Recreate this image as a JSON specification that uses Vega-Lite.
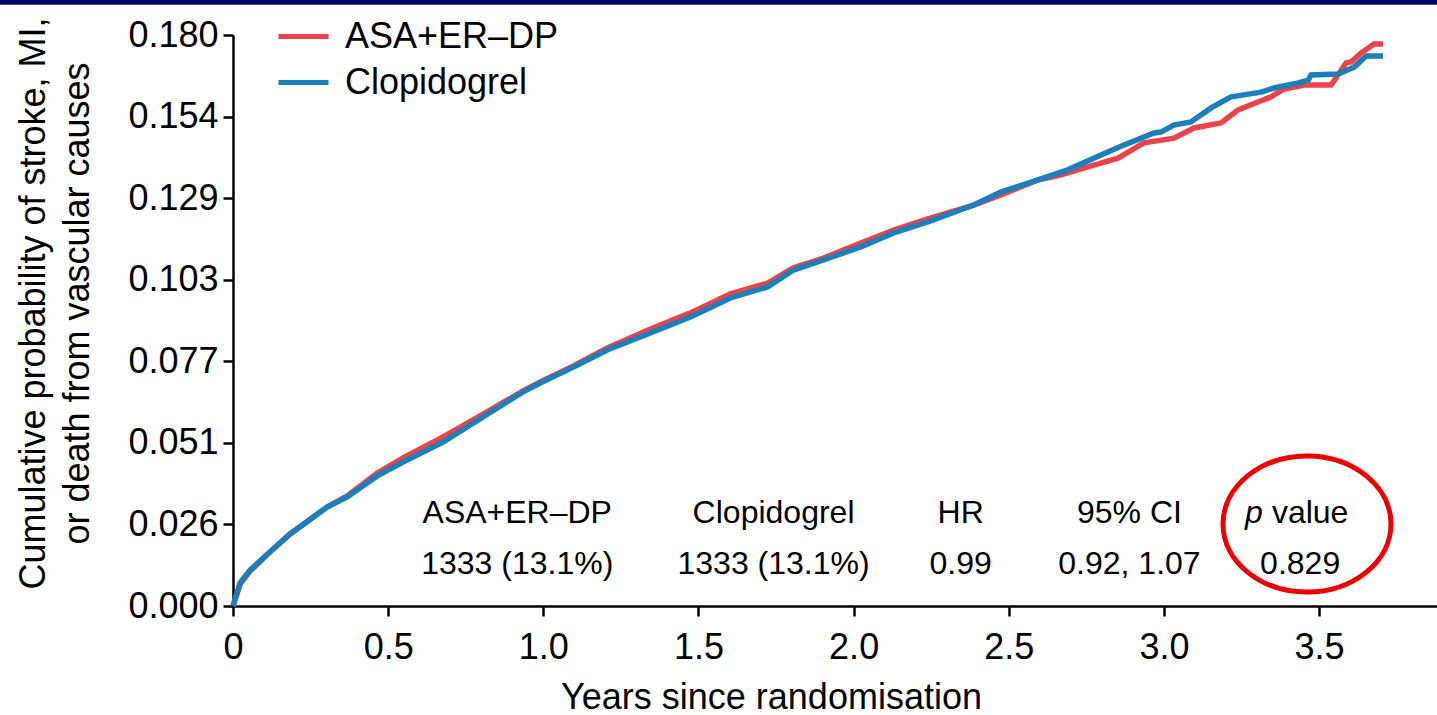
{
  "$schema": "https://vega.github.io/schema/vega-lite/v6.json",
  "width": 1204,
  "height": 571,
  "autosize": {"type": "none"},
  "padding": {"left": 233, "top": 35, "right": 0, "bottom": 109},
  "background": "white",
  "config": {
    "font": "Liberation Sans",
    "view": {"stroke": null},
    "axis": {
      "grid": false,
      "domainColor": "black",
      "domainWidth": 2.5,
      "tickColor": "black",
      "tickWidth": 2.5,
      "tickSize": 10,
      "labelColor": "black",
      "labelFontSize": 36,
      "labelFont": "Liberation Sans",
      "titleColor": "black",
      "titleFontSize": 36,
      "titleFont": "Liberation Sans",
      "titleFontWeight": "normal",
      "labelOverlap": false
    },
    "legend": {
      "labelFont": "Liberation Sans",
      "labelFontSize": 36,
      "labelColor": "black",
      "labelLimit": 0
    }
  },
  "datasets": {
    "curves": [
      {"s": "ASA+ER–DP", "t": 0, "p": 0},
      {"s": "ASA+ER–DP", "t": 0.006, "p": 0.0019},
      {"s": "ASA+ER–DP", "t": 0.023, "p": 0.0069},
      {"s": "ASA+ER–DP", "t": 0.055, "p": 0.011},
      {"s": "ASA+ER–DP", "t": 0.119, "p": 0.017},
      {"s": "ASA+ER–DP", "t": 0.184, "p": 0.0227},
      {"s": "ASA+ER–DP", "t": 0.303, "p": 0.0312},
      {"s": "ASA+ER–DP", "t": 0.368, "p": 0.0347},
      {"s": "ASA+ER–DP", "t": 0.465, "p": 0.0419},
      {"s": "ASA+ER–DP", "t": 0.548, "p": 0.0467},
      {"s": "ASA+ER–DP", "t": 0.677, "p": 0.0533},
      {"s": "ASA+ER–DP", "t": 0.806, "p": 0.0605},
      {"s": "ASA+ER–DP", "t": 0.935, "p": 0.0678},
      {"s": "ASA+ER–DP", "t": 0.99, "p": 0.0706},
      {"s": "ASA+ER–DP", "t": 1.097, "p": 0.0757},
      {"s": "ASA+ER–DP", "t": 1.206, "p": 0.0813},
      {"s": "ASA+ER–DP", "t": 1.345, "p": 0.0873},
      {"s": "ASA+ER–DP", "t": 1.474, "p": 0.0924},
      {"s": "ASA+ER–DP", "t": 1.603, "p": 0.0984},
      {"s": "ASA+ER–DP", "t": 1.723, "p": 0.1018},
      {"s": "ASA+ER–DP", "t": 1.806, "p": 0.1066},
      {"s": "ASA+ER–DP", "t": 1.903, "p": 0.1097},
      {"s": "ASA+ER–DP", "t": 2.023, "p": 0.1144},
      {"s": "ASA+ER–DP", "t": 2.129, "p": 0.1185},
      {"s": "ASA+ER–DP", "t": 2.239, "p": 0.122},
      {"s": "ASA+ER–DP", "t": 2.387, "p": 0.1264},
      {"s": "ASA+ER–DP", "t": 2.474, "p": 0.1296},
      {"s": "ASA+ER–DP", "t": 2.594, "p": 0.1343},
      {"s": "ASA+ER–DP", "t": 2.668, "p": 0.1359},
      {"s": "ASA+ER–DP", "t": 2.774, "p": 0.139},
      {"s": "ASA+ER–DP", "t": 2.852, "p": 0.1412},
      {"s": "ASA+ER–DP", "t": 2.935, "p": 0.146},
      {"s": "ASA+ER–DP", "t": 3.032, "p": 0.1475},
      {"s": "ASA+ER–DP", "t": 3.097, "p": 0.1507},
      {"s": "ASA+ER–DP", "t": 3.184, "p": 0.1523},
      {"s": "ASA+ER–DP", "t": 3.239, "p": 0.1564},
      {"s": "ASA+ER–DP", "t": 3.303, "p": 0.1589},
      {"s": "ASA+ER–DP", "t": 3.345, "p": 0.1605},
      {"s": "ASA+ER–DP", "t": 3.387, "p": 0.163},
      {"s": "ASA+ER–DP", "t": 3.452, "p": 0.1642},
      {"s": "ASA+ER–DP", "t": 3.539, "p": 0.1642},
      {"s": "ASA+ER–DP", "t": 3.587, "p": 0.1712},
      {"s": "ASA+ER–DP", "t": 3.603, "p": 0.1715},
      {"s": "ASA+ER–DP", "t": 3.635, "p": 0.1743},
      {"s": "ASA+ER–DP", "t": 3.677, "p": 0.1772},
      {"s": "ASA+ER–DP", "t": 3.706, "p": 0.1772},
      {"s": "Clopidogrel", "t": 0, "p": 0},
      {"s": "Clopidogrel", "t": 0.006, "p": 0.0019},
      {"s": "Clopidogrel", "t": 0.023, "p": 0.0073},
      {"s": "Clopidogrel", "t": 0.055, "p": 0.0113},
      {"s": "Clopidogrel", "t": 0.119, "p": 0.017},
      {"s": "Clopidogrel", "t": 0.184, "p": 0.0227},
      {"s": "Clopidogrel", "t": 0.303, "p": 0.0312},
      {"s": "Clopidogrel", "t": 0.368, "p": 0.0344},
      {"s": "Clopidogrel", "t": 0.465, "p": 0.041},
      {"s": "Clopidogrel", "t": 0.548, "p": 0.0454},
      {"s": "Clopidogrel", "t": 0.677, "p": 0.0517},
      {"s": "Clopidogrel", "t": 0.806, "p": 0.0596},
      {"s": "Clopidogrel", "t": 0.935, "p": 0.0675},
      {"s": "Clopidogrel", "t": 0.99, "p": 0.0703},
      {"s": "Clopidogrel", "t": 1.097, "p": 0.0753},
      {"s": "Clopidogrel", "t": 1.206, "p": 0.0807},
      {"s": "Clopidogrel", "t": 1.345, "p": 0.0861},
      {"s": "Clopidogrel", "t": 1.474, "p": 0.0911},
      {"s": "Clopidogrel", "t": 1.603, "p": 0.0971},
      {"s": "Clopidogrel", "t": 1.723, "p": 0.1006},
      {"s": "Clopidogrel", "t": 1.806, "p": 0.1059},
      {"s": "Clopidogrel", "t": 1.903, "p": 0.1091},
      {"s": "Clopidogrel", "t": 2.023, "p": 0.1132},
      {"s": "Clopidogrel", "t": 2.129, "p": 0.1176},
      {"s": "Clopidogrel", "t": 2.239, "p": 0.1211},
      {"s": "Clopidogrel", "t": 2.387, "p": 0.1264},
      {"s": "Clopidogrel", "t": 2.474, "p": 0.1305},
      {"s": "Clopidogrel", "t": 2.594, "p": 0.1343},
      {"s": "Clopidogrel", "t": 2.69, "p": 0.1375},
      {"s": "Clopidogrel", "t": 2.797, "p": 0.1422},
      {"s": "Clopidogrel", "t": 2.871, "p": 0.1453},
      {"s": "Clopidogrel", "t": 2.968, "p": 0.1491},
      {"s": "Clopidogrel", "t": 2.99, "p": 0.1494},
      {"s": "Clopidogrel", "t": 3.032, "p": 0.1516},
      {"s": "Clopidogrel", "t": 3.087, "p": 0.1526},
      {"s": "Clopidogrel", "t": 3.152, "p": 0.157},
      {"s": "Clopidogrel", "t": 3.216, "p": 0.1605},
      {"s": "Clopidogrel", "t": 3.313, "p": 0.162},
      {"s": "Clopidogrel", "t": 3.355, "p": 0.1633},
      {"s": "Clopidogrel", "t": 3.432, "p": 0.1649},
      {"s": "Clopidogrel", "t": 3.465, "p": 0.1658},
      {"s": "Clopidogrel", "t": 3.474, "p": 0.1674},
      {"s": "Clopidogrel", "t": 3.561, "p": 0.1677},
      {"s": "Clopidogrel", "t": 3.613, "p": 0.1699},
      {"s": "Clopidogrel", "t": 3.652, "p": 0.1734},
      {"s": "Clopidogrel", "t": 3.706, "p": 0.1734}
    ],
    "table": [
      {"t": 0.916, "p": 0.0293, "label": "ASA+ER–DP"},
      {"t": 1.742, "p": 0.0293, "label": "Clopidogrel"},
      {"t": 2.345, "p": 0.0293, "label": "HR"},
      {"t": 2.889, "p": 0.0293, "label": "95% CI"},
      {"t": 0.916, "p": 0.0132, "label": "1333 (13.1%)"},
      {"t": 1.742, "p": 0.0132, "label": "1333 (13.1%)"},
      {"t": 2.345, "p": 0.0132, "label": "0.99"},
      {"t": 2.889, "p": 0.0132, "label": "0.92, 1.07"},
      {"t": 3.439, "p": 0.0132, "label": "0.829"}
    ],
    "pital": [{"t": 3.319, "p": 0.0293, "label": "p"}],
    "pval": [{"t": 3.348, "p": 0.0293, "label": "value"}],
    "ell": [{"t": 3.461, "p": 0.02585}],
    "bar": [{"t": -0.752, "t2": 3.884, "p": 0.1895, "p2": 0.1912}]
  },
  "layer": [
    {
      "data": {"name": "bar"},
      "mark": {"type": "rect", "color": "#000066"},
      "encoding": {
        "x": {"field": "t", "type": "quantitative", "scale": {"domain": [0, 3.88], "nice": false, "zero": false}},
        "x2": {"field": "t2"},
        "y": {"field": "p", "type": "quantitative", "scale": {"domain": [0, 0.18], "nice": false, "zero": false}},
        "y2": {"field": "p2"}
      }
    },
    {
      "data": {"name": "curves"},
      "transform": [{"filter": "datum.s === 'ASA+ER–DP'"}],
      "mark": {"type": "line", "strokeWidth": 5.5, "interpolate": "linear"},
      "encoding": {
        "x": {
          "field": "t", "type": "quantitative",
          "scale": {"domain": [0, 3.88], "nice": false, "zero": false},
          "axis": {
            "title": "Years since randomisation",
            "values": [0, 0.5, 1, 1.5, 2, 2.5, 3, 3.5],
            "labelExpr": "datum.value == 0 ? '0' : format(datum.value, '.1f')",
            "labelFlush": false,
            "labelPadding": 14,
            "titleX": 538,
            "titleY": 102,
            "titleBaseline": "alphabetic",
            "titleAlign": "center"
          }
        },
        "y": {
          "field": "p", "type": "quantitative",
          "scale": {"domain": [0, 0.18], "nice": false, "zero": false},
          "axis": {
            "title": ["Cumulative probability of stroke, MI,", "or death from vascular causes"],
            "values": [0, 0.0257142857, 0.0514285714, 0.0771428571, 0.1028571429, 0.1285714286, 0.1542857143, 0.18],
            "format": ".3f",
            "labelPadding": 5,
            "titleX": -189,
            "titleY": 268,
            "titleBaseline": "alphabetic",
            "titleAlign": "center",
            "titleAngle": -90,
            "titleLineHeight": 44
          }
        },
        "color": {
          "field": "s", "type": "nominal",
          "scale": {"domain": ["ASA+ER–DP", "Clopidogrel"], "range": ["#ec434b", "#1a7fba"]},
          "legend": {
            "title": null,
            "orient": "none",
            "legendX": 43,
            "legendY": -26,
            "symbolType": "stroke",
            "symbolSize": 2500,
            "symbolStrokeWidth": 5,
            "labelOffset": 14,
            "labelLimit": 0,
            "rowPadding": -12,
            "padding": 0
          }
        }
      }
    },
    {
      "data": {"name": "curves"},
      "transform": [{"filter": "datum.s === 'Clopidogrel'"}],
      "mark": {"type": "line", "strokeWidth": 5.5, "interpolate": "linear"},
      "encoding": {
        "x": {"field": "t", "type": "quantitative", "scale": {"domain": [0, 3.88], "nice": false, "zero": false}},
        "y": {"field": "p", "type": "quantitative", "scale": {"domain": [0, 0.18], "nice": false, "zero": false}},
        "color": {"field": "s", "type": "nominal", "scale": {"domain": ["ASA+ER–DP", "Clopidogrel"], "range": ["#ec434b", "#1a7fba"]}}
      }
    },
    {
      "data": {"name": "table"},
      "mark": {"type": "text", "fontSize": 32, "font": "Liberation Sans", "color": "black", "align": "center", "baseline": "middle"},
      "encoding": {
        "x": {"field": "t", "type": "quantitative"},
        "y": {"field": "p", "type": "quantitative"},
        "text": {"field": "label"}
      }
    },
    {
      "data": {"name": "pital"},
      "mark": {"type": "text", "fontSize": 32, "font": "Liberation Sans", "fontStyle": "italic", "color": "black", "align": "right", "baseline": "middle"},
      "encoding": {
        "x": {"field": "t", "type": "quantitative"},
        "y": {"field": "p", "type": "quantitative"},
        "text": {"field": "label"}
      }
    },
    {
      "data": {"name": "pval"},
      "mark": {"type": "text", "fontSize": 32, "font": "Liberation Sans", "color": "black", "align": "left", "baseline": "middle"},
      "encoding": {
        "x": {"field": "t", "type": "quantitative"},
        "y": {"field": "p", "type": "quantitative"},
        "text": {"field": "label"}
      }
    },
    {
      "data": {"name": "ell"},
      "mark": {"type": "point", "shape": "M -1 0 A 1 0.81 0 1 1 1 0 A 1 0.81 0 1 1 -1 0 Z", "size": 28224, "filled": false, "stroke": "#ee0000", "strokeWidth": 5, "opacity": 1},
      "encoding": {
        "x": {"field": "t", "type": "quantitative"},
        "y": {"field": "p", "type": "quantitative"}
      }
    }
  ]
}
